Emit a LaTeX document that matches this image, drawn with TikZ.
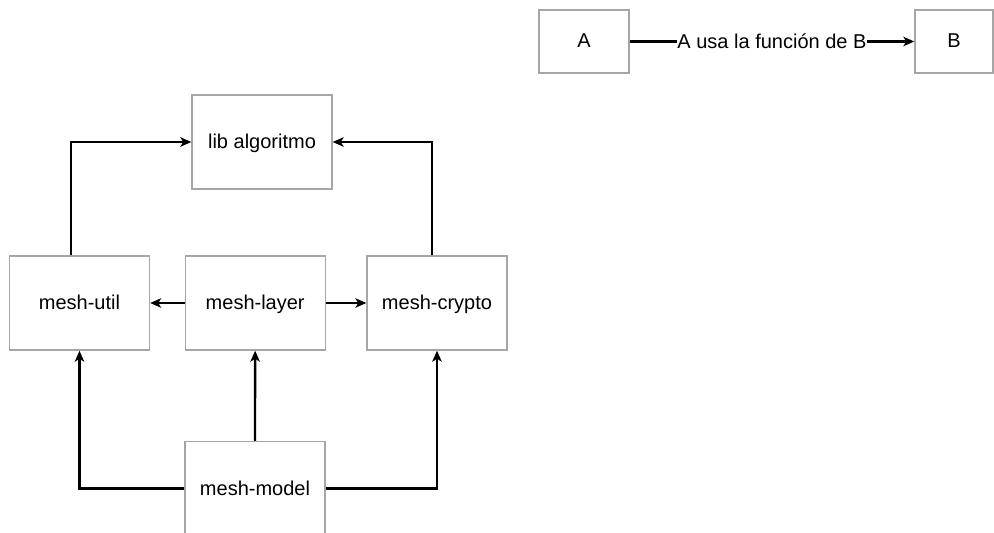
\documentclass[tikz,border=0pt]{standalone}
\usepackage{fontspec}
\setmainfont{Liberation Sans}
\usetikzlibrary{arrows.meta}
\definecolor{boxline}{HTML}{A6A6A6}
\tikzset{
  box/.style={draw=boxline, line width=1.4pt, fill=white, rectangle,
    minimum width=140pt, minimum height=94pt, inner sep=0pt,
    text depth=1pt, font=\fontsize{20}{24}\selectfont},
  link/.style={line width=2.3pt, -{Stealth[length=11pt, width=9.5pt, inset=3pt]}},
  lbl/.style={fill=white, inner xsep=0.5pt, inner ysep=2pt, font=\fontsize{20}{24}\selectfont}
}
\begin{document}
\begin{tikzpicture}[x=1pt, y=-1pt]
  \useasboundingbox (0,0) rectangle (994,533);

  % legend
  \node[box, minimum width=90pt, minimum height=63pt] (a) at (584,41.5) {A};
  \node[box, minimum width=78pt, minimum height=63pt] (b) at (954,41.5) {B};
  \draw[link] (a) -- node[lbl] {A usa la función de B} (b);

  % modules
  \node[box] (lib) at (262,142) {lib algoritmo};
  \node[box] (util) at (79.5,303) {mesh-util};
  \node[box] (layer) at (255.2,303) {mesh-layer};
  \node[box] (crypto) at (437,303) {mesh-crypto};
  \node[box, overlay] (model) at (255,488.5) {mesh-model};

  % dependencies
  \draw[link] ([xshift=-8.5pt]util.north) |- (lib.west);
  \draw[link] ([xshift=-5.3pt]crypto.north) |- (lib.east);
  \draw[link] (layer) -- (util);
  \draw[link] (layer) -- (crypto);
  \draw[link] (model.west) -| (util.south);
  \draw[link] (model) -- (layer);
  \draw[link] (model.east) -| (crypto.south);
\end{tikzpicture}
\end{document}
